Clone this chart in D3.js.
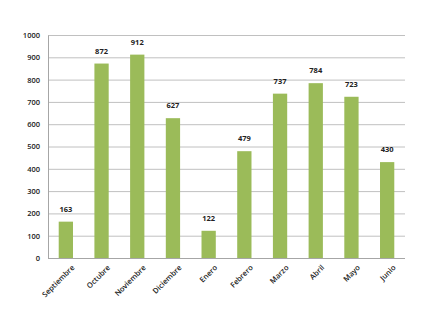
<!DOCTYPE html>
<html><head><meta charset="utf-8">
<script src="https://cdn.jsdelivr.net/npm/d3@7"></script>
<style>body{margin:0;background:#fff}svg{display:block}</style>
</head><body>
<script>
const categories = ["Septiembre","Octubre","Noviembre","Diciembre","Enero","Febrero","Marzo","Abril","Mayo","Junio"];
const values = [163,872,912,627,122,479,737,784,723,430];
const yTicks = [0,100,200,300,400,500,600,700,800,900,1000];

const W=440,H=330;
const m={left:48,right:35,top:35,bottom:72};
const svg=d3.select("body").append("svg").attr("width",W).attr("height",H);
const x=d3.scaleBand().domain(categories).range([m.left,W-m.right]).paddingInner(0.6).paddingOuter(0.3);
const y=d3.scaleLinear().domain([0,1000]).range([H-m.bottom,m.top]);
const font="'Open Sans', 'DejaVu Sans', sans-serif";

// grid
svg.append("g").selectAll("line").data(yTicks.filter(d=>d>0)).join("line")
 .attr("x1",m.left).attr("x2",W-m.right).attr("y1",d=>y(d)+0.5).attr("y2",d=>y(d)+0.5)
 .attr("stroke","#c0c0c0").attr("stroke-width",1);

// y axis
const ya=svg.append("g").attr("transform",`translate(${m.left},0)`)
 .call(d3.axisLeft(y).tickValues(yTicks).tickFormat(d3.format("d")).tickSize(0).tickPadding(8));
ya.select(".domain").attr("stroke","#a6a6a6");
ya.selectAll("text").attr("font-family",font).attr("font-size",7.5).attr("font-weight","600").attr("fill","#222");

// bars
svg.append("g").selectAll("rect").data(values).join("rect")
 .attr("x",(d,i)=>x(categories[i])).attr("width",x.bandwidth())
 .attr("y",d=>y(d)).attr("height",d=>y(0)-y(d)).attr("fill","#9bbb59");

// value labels
svg.append("g").selectAll("text").data(values).join("text")
 .attr("x",(d,i)=>x(categories[i])+x.bandwidth()/2).attr("y",d=>y(d)-10)
 .attr("text-anchor","middle").attr("font-family",font).attr("font-size",7.5).attr("font-weight","700").attr("fill","#222")
 .text(d=>d);

// x axis
const xa=svg.append("g").attr("transform",`translate(0,${y(0)})`)
 .call(d3.axisBottom(x).tickSize(0).tickPadding(6));
xa.select(".domain").attr("stroke","#a6a6a6").attr("d",`M${m.left},0.5H${W-m.right}`);
xa.selectAll("text").attr("font-family",font).attr("font-size",7.5).attr("font-weight","600").attr("fill","#222")
 .attr("text-anchor","end").attr("dy","0.35em")
 .attr("transform","translate(3,4) rotate(-45)");
</script>
</body></html>
